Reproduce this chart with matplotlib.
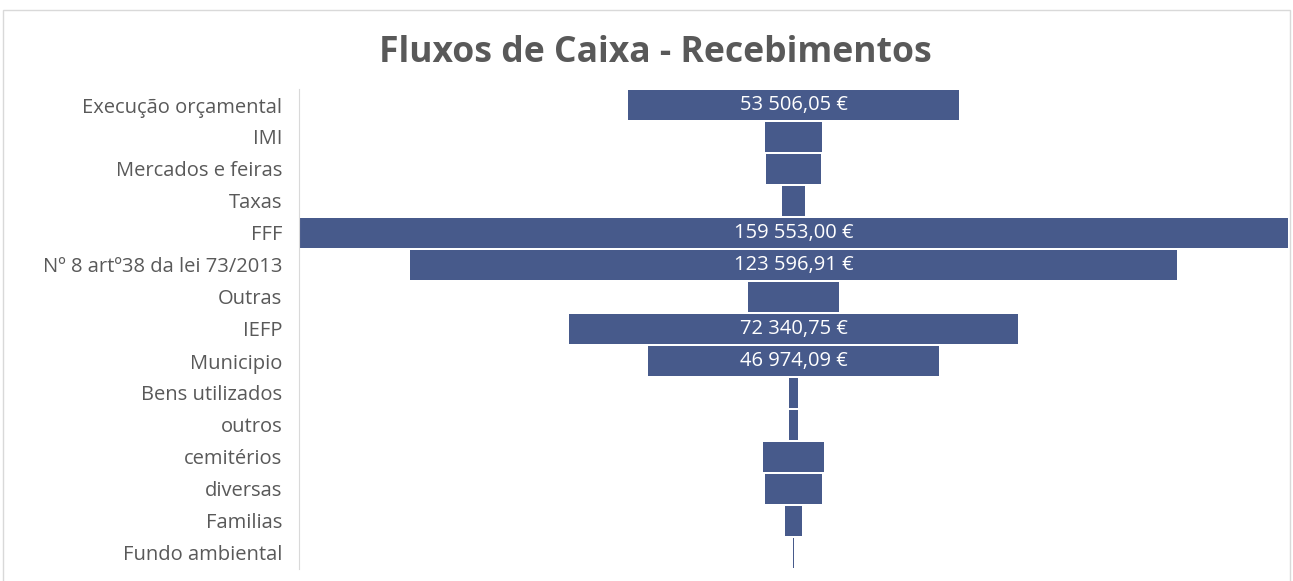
import matplotlib
matplotlib.use("Agg")
import matplotlib.pyplot as plt
from matplotlib.patches import Rectangle

categories = ["Execução orçamental", "IMI", "Mercados e feiras", "Taxas", "FFF",
              "Nº 8 artº38 da lei 73/2013", "Outras", "IEFP", "Municipio",
              "Bens utilizados", "outros", "cemitérios", "diversas", "Familias",
              "Fundo ambiental"]
values = [53506.05, 9350, 9030, 3710, 159553.00,
          123596.91, 14840, 72340.75, 46974.09,
          1610, 1450, 9840, 9190, 2740, 150]
shown_labels = ["53 506,05 €", None, None, None, "159 553,00 €",
                "123 596,91 €", None, "72 340,75 €", "46 974,09 €",
                None, None, None, None, None, None]

bar_color = "#475a8b"
text_gray = "#595959"

fig = plt.figure(figsize=(12.93, 5.81), dpi=100)
fig.patches.append(Rectangle((3 / 1293, -0.01), 1287 / 1293, 1 - 10 / 581 + 0.01,
                             transform=fig.transFigure, fill=False,
                             edgecolor="#d9d9d9", linewidth=1))

ax = fig.add_axes([299 / 1293, 1 - 569 / 581, 989 / 1293, 480 / 581])
ypos = list(range(len(categories)))
lefts = [-v / 2 for v in values]
ax.barh(ypos, values, left=lefts, height=0.94, color=bar_color)

for y, lab in zip(ypos, shown_labels):
    if lab:
        ax.text(0, y, lab, ha="center", va="center", color="white",
                fontsize=14.5, family="Open Sans")

vmax = max(values)
ax.set_xlim(-vmax / 2, vmax / 2)
ax.set_ylim(len(categories) - 0.5, -0.5)
ax.set_yticks(ypos)
ax.set_yticklabels(categories, fontsize=14.5, color=text_gray, family="Open Sans")
ax.tick_params(axis="y", length=0, pad=12)
ax.set_xticks([])
for s in ["top", "right", "bottom"]:
    ax.spines[s].set_visible(False)
ax.spines["left"].set_color("#d9d9d9")

fig.text(655 / 1293, 1 - 53 / 581, "Fluxos de Caixa - Recebimentos",
         ha="center", va="center", fontsize=25.6, fontweight="bold",
         color=text_gray, family="Open Sans")

plt.savefig("out.png", dpi=100)
